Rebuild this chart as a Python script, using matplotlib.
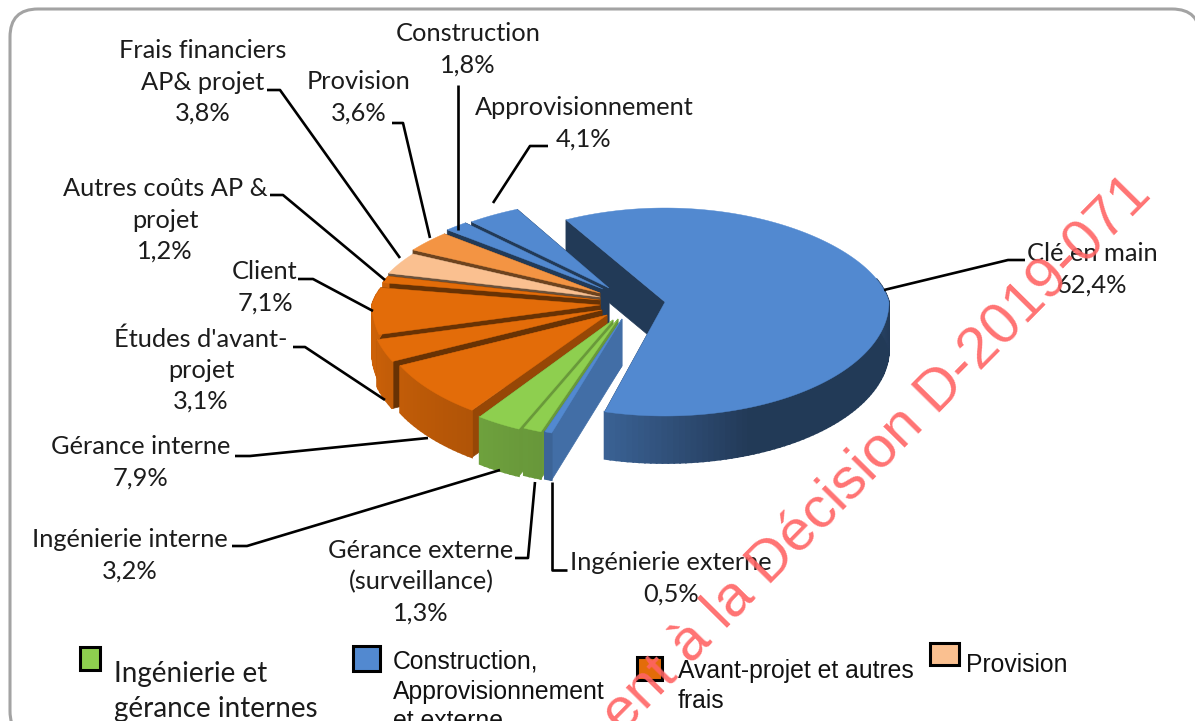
import numpy as np
import matplotlib
matplotlib.use("Agg")
import matplotlib.pyplot as plt
from matplotlib.patches import Polygon, FancyBboxPatch, Rectangle

# ---- data -----------------------------------------------------------------
categories = ["Clé en main", "Ingénierie externe", "Gérance externe", "Ingénierie interne",
              "Gérance interne", "Études d'avant-projet", "Client", "Autres coûts AP & projet",
              "Frais financiers AP& projet", "Provision", "Construction", "Approvisionnement"]
shares = [62.4, 0.5, 1.3, 3.2, 7.9, 3.1, 7.1, 1.2, 3.8, 3.6, 1.8, 4.1]
legend_labels = ["Ingénierie et\ngérance internes", "Construction,\nApprovisionnement\net externe",
                 "Avant-projet et autres\nfrais", "Provision"]
label_texts = ["Clé en main\n62,4%", "Ingénierie externe\n0,5%", "Gérance externe\n(surveillance)\n1,3%",
               "Ingénierie interne\n3,2%", "Gérance interne\n7,9%", "Études d'avant-\nprojet\n3,1%",
               "Client\n7,1%", "Autres coûts AP &\nprojet\n1,2%", "Frais financiers\nAP& projet\n3,8%",
               "Provision\n3,6%", "Construction\n1,8%", "Approvisionnement\n4,1%"]

# ---- style / layout -------------------------------------------------------
BLUE, GREEN, ORANGE, PEACH, LORANGE = "#5289d0", "#8ecf4f", "#e36c09", "#fac090", "#f39443"
top_colors = [BLUE, BLUE, GREEN, GREEN, ORANGE, ORANGE, ORANGE, ORANGE, PEACH, LORANGE, BLUE, BLUE]
wall_factor = [.42, .80, .74, .74, .66, .46, .46, .46, .42, .45, .42, .42]
apex = [(665, 302), (622, 319), (618, 319), (613, 320), (607, 315), (602, 310),
        (600, 305), (600, 300), (600, 297), (600, 293), (603, 289), (609, 288)]
radii = [(224, 94, 114), (226, 88, 120), (226, 88, 120), (226, 88, 120), (229, 88, 118),
         (232, 88, 120), (228, 88, 120)] + [(226, 88, 120)] * 5
draw_order = [0, 11, 10, 9, 8, 7, 6, 5, 4, 3, 2, 1]
START_MAIN = 119.0
START_REST = 116.5
XPERSP = 0.11
DEPTH = 47
label_xy = [(1092, 269), (671, 578), (421, 582), (130, 555), (141, 462), (201, 370),
            (265, 287), (165, 220), (203, 82), (359, 97), (468, 49), (584, 123)]
leaders = [[(1025, 260), (1008, 260), (884, 290)], [(567, 570), (552, 570), (552, 482)],
           [(515, 558), (528, 558), (535, 482)], [(232, 546), (247, 546), (500, 470)],
           [(235, 456), (250, 456), (428, 438)], [(293, 347), (305, 347), (385, 400)],
           [(298, 279), (313, 279), (373, 311)], [(270, 195), (283, 195), (385, 280)],
           [(267, 90), (280, 90), (400, 258)], [(392, 123), (403, 123), (430, 238)],
           [(458, 85), (458, 230)], [(548, 146), (530, 146), (493, 203)]]

plt.rcParams["font.family"] = ["Lato", "DejaVu Sans"]
fig = plt.figure(figsize=(11.95, 7.21), dpi=100)
ax = fig.add_axes([0, 0, 1, 1])
ax.set_xlim(0, 1195)
ax.set_ylim(721, 0)
ax.axis("off")

ax.add_patch(FancyBboxPatch((10, 9), 1190, 730, boxstyle="round,pad=0,rounding_size=28",
                            fc="white", ec="#a3a3a3", lw=2.2, zorder=0))


def pt(i, deg, z=0):
    t = np.radians(deg)
    a, far, near = radii[i]
    s = np.sin(t)
    kx = 1 + XPERSP * max(s, 0)
    return apex[i][0] + a * np.cos(t) / kx, apex[i][1] - (far if s > 0 else near) * s + z


def shade(hexcol, f):
    return tuple(np.clip(np.array(matplotlib.colors.to_rgb(hexcol)) * f, 0, 1))


def rim_factor(deg):
    return np.interp(deg % 360, [0, 120, 190, 233, 254, 292, 340, 360],
                     [.42, .9, .9, .78, .72, .42, .42, .42])


# every slice's angular span comes from its share, clockwise from the main slice
ends = START_REST + np.cumsum(shares[:0:-1]) * 3.6
bounds = {}
prev = START_REST
for j, idx in enumerate(range(len(shares) - 1, 0, -1)):
    bounds[idx] = (prev, ends[j])
    prev = ends[j]
bounds[0] = (START_MAIN + 360 - shares[0] * 3.6, START_MAIN + 360)

z = 1
for i in draw_order:
    t0, t1 = bounds[i]
    col = top_colors[i]
    p = apex[i]
    # radial walls
    for t in (t0, t1):
        o = pt(i, t)
        ax.add_patch(Polygon([p, o, (o[0], o[1] + DEPTH), (p[0], p[1] + DEPTH)], closed=True,
                             fc=shade(col, wall_factor[i]), ec=shade(col, wall_factor[i]),
                             lw=.5, zorder=z))
    z += 1
    # outer rim with a shading gradient; only the near half of the rim shows
    grid = np.unique(np.append(np.arange(t0, t1, 1.5), t1))
    for u, v in zip(grid[:-1], grid[1:]):
        m = (u + v) / 2 % 360
        if 15 < m < 165:
            continue
        a_, b_ = pt(i, u), pt(i, v)
        c = shade(col, rim_factor(m))
        ax.add_patch(Polygon([a_, b_, (b_[0], b_[1] + DEPTH), (a_[0], a_[1] + DEPTH)], closed=True,
                             fc=c, ec=c, lw=1.3, zorder=z))
    z += 1
    # top
    arc = [pt(i, u) for u in np.linspace(t0, t1, max(3, int((t1 - t0) * 2)))]
    ax.add_patch(Polygon([p] + arc, closed=True, fc=col, ec=col, lw=.3, zorder=z))
    z += 1

for line in leaders:
    xs, ys = zip(*line)
    ax.plot(xs, ys, color="black", lw=1.9, zorder=z, solid_capstyle="butt")
z += 1
for (x, y), s in zip(label_xy, label_texts):
    ax.text(x, y, s, ha="center", va="center", fontsize=18.3, color="#1c1c1c",
            linespacing=1.43, zorder=z)

# legend
swatches = [((80, 647, 20, 23), GREEN), ((353, 646, 27, 25), BLUE),
            ((637, 657, 25, 23), ORANGE), ((930, 643, 29, 22), PEACH)]
for (x, y, w, h), c in swatches:
    ax.add_patch(Rectangle((x, y), w, h, fc=c, ec="black", lw=2.2, zorder=z))
ax.text(114, 661, legend_labels[0], fontsize=20, va="top", color="#1c1c1c", linespacing=1.45,
        zorder=z, clip_on=True)
for (x, y), s in zip([(393, 650), (678, 659), (966, 653)], legend_labels[1:]):
    ax.text(x, y, s, fontsize=17.8, va="top", family=["Liberation Sans"], color="#111111",
            linespacing=1.3, zorder=z, clip_on=True)

# watermark
ax.text(1153, 196, "ent à la Décision D-2019-071", rotation=45.4, rotation_mode="anchor",
        ha="right", va="baseline", fontsize=42, family=["Liberation Sans"], color="#ff6464",
        alpha=.9, zorder=z + 1, clip_on=True)

fig.savefig("out.png", dpi=100)
